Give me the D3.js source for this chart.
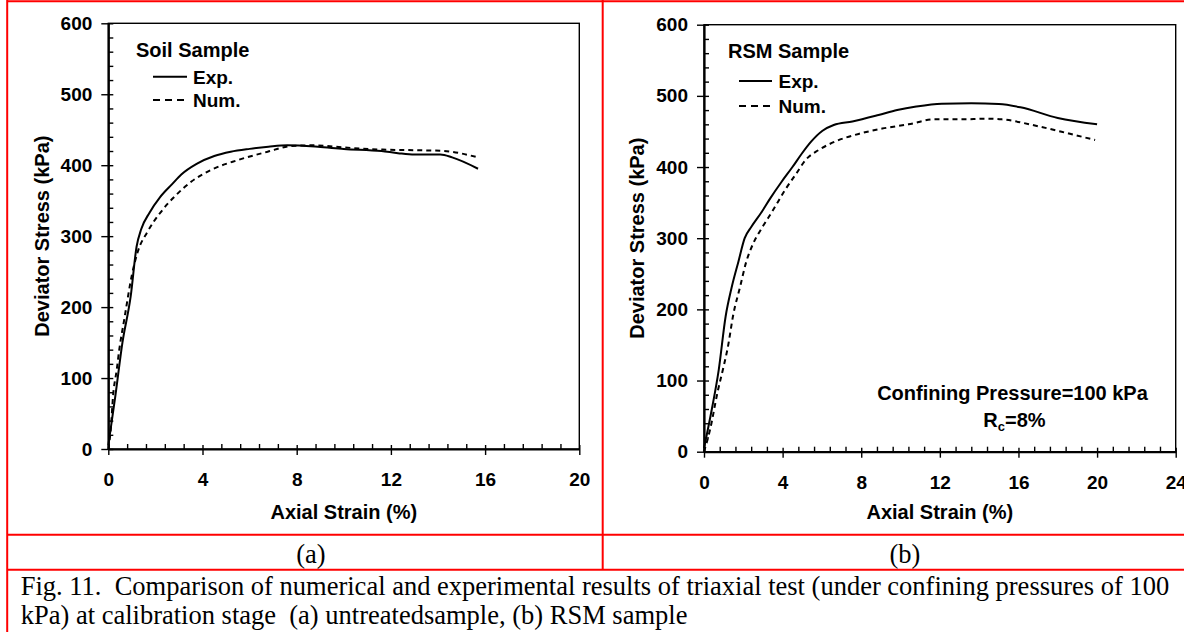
<!DOCTYPE html>
<html><head><meta charset="utf-8">
<script src="https://cdn.jsdelivr.net/npm/d3@7/dist/d3.min.js"></script>
<style>
html,body{margin:0;padding:0;background:#fff;}
svg{display:block;}
</style>
</head><body>
<svg id="chart" width="1184" height="632"></svg>
<script>
// ---------- data ----------
const stressTicks = [0, 100, 200, 300, 400, 500, 600];
const strainTicksA = [0, 4, 8, 12, 16, 20];
const strainTicksB = [0, 4, 8, 12, 16, 20, 24];

const soilExpStrain = [0, 0.3, 0.6, 0.95, 1.2, 1.4, 1.75, 2.2, 2.7, 3.1, 3.75, 4.5, 5.2, 6.0, 6.8, 7.6, 8.9, 10.0, 11.6, 12.3, 13.0, 14.1, 14.6, 15.7];
const soilExpStress = [5, 75, 150, 215, 285, 310, 333, 355, 373, 387, 402, 413, 419, 423, 426, 428, 426, 423, 420, 417, 415, 415, 411, 395];

const soilNumStrain = [0, 0.11, 0.2, 0.36, 0.47, 0.68, 1.0, 1.25, 1.66, 2.23, 2.88, 3.53, 4.34, 5.48, 6.77, 7.75, 8.72, 10.0, 11.65, 13.3, 14.25, 15.7];
const soilNumStress = [0, 30, 74, 112, 141, 183, 245, 278, 306, 334, 358, 377, 393, 407, 419, 427, 428, 425, 422, 421, 420, 411];

const rsmExpStrain = [0, 0.4, 0.75, 1.1, 1.4, 1.75, 2.07, 2.41, 2.89, 3.37, 3.94, 4.5, 4.98, 5.46, 6.03, 6.6, 7.55, 8.88, 9.83, 10.8, 12.1, 13.6, 15.0, 16.1, 18.0, 20.0];
const rsmExpStress = [5, 60, 115, 190, 230, 267, 300, 316, 335, 356, 379, 400, 419, 436, 451, 459, 464, 473, 480, 485, 489, 489.5, 488.5, 484, 469, 460];

const rsmNumStrain = [0, 0.3, 0.7, 1.0, 1.2, 1.5, 1.84, 2.13, 2.51, 2.98, 3.46, 4.13, 4.7, 5.17, 5.84, 6.69, 7.93, 9.07, 10.4, 11.73, 13.06, 14.4, 15.15, 17.05, 18.57, 19.9];
const rsmNumStress = [0, 30, 85, 120, 145, 194, 232, 265, 293, 316, 337, 368, 391, 410, 424, 436, 447, 454, 460, 467, 467, 468, 467, 457, 447, 438];

const xTitle = "Axial Strain (%)";
const yTitle = "Deviator Stress (kPa)";
const legendLabels = ["Exp.", "Num."];
const panelTitles = ["Soil Sample", "RSM Sample"];
const panelTags = ["(a)", "(b)"];
const noteLine1 = "Confining Pressure=100 kPa";
const captionLine1 = "Fig. 11.  Comparison of numerical and experimental results of triaxial test (under confining pressures of 100";
const captionLine2 = "kPa) at calibration stage  (a) untreatedsample, (b) RSM sample";

// ---------- drawing ----------
const svg = d3.select("#chart");
const SANS = "'Liberation Sans', Arial, Helvetica, sans-serif";
const SERIF = "'Liberation Serif', 'Times New Roman', serif";
const RED = "#ff0000";

// table grid
const grid = svg.append("g").attr("stroke", RED).attr("stroke-width", 2).attr("fill", "none");
grid.append("line").attr("x1", 7).attr("x2", 1200).attr("y1", 1.2).attr("y2", 1.2);
grid.append("line").attr("x1", 7.2).attr("x2", 7.2).attr("y1", 0).attr("y2", 640);
grid.append("line").attr("x1", 602.7).attr("x2", 602.7).attr("y1", 0).attr("y2", 569.7);
grid.append("line").attr("x1", 7).attr("x2", 1200).attr("y1", 534.7).attr("y2", 534.7);
grid.append("line").attr("x1", 7).attr("x2", 1200).attr("y1", 569.7).attr("y2", 569.7);

function zip(xs, ys) { return xs.map((x, i) => [x, ys[i]]); }

const panels = [
  { x0: 108.3, x1: 579.3, yT: 23.3, yB: 449, xMax: 20, xTicks: strainTicksA,
    exp: zip(soilExpStrain, soilExpStress), num: zip(soilNumStrain, soilNumStress),
    title: panelTitles[0], titleX: 136, titleY: 56.5,
    legX: 153, legLen: 34, legY: [76.7, 100], legTextX: 193, legTextY: [83.6, 107],
    yTitleX: 42, tag: panelTags[0], tagX: 311 },
  { x0: 704, x1: 1175.7, yT: 24.7, yB: 451.7, xMax: 24, xTicks: strainTicksB,
    exp: zip(rsmExpStrain, rsmExpStress), num: zip(rsmNumStrain, rsmNumStress),
    title: panelTitles[1], titleX: 728, titleY: 57.5,
    legX: 739, legLen: 33, legY: [81, 106], legTextX: 778.5, legTextY: [88.3, 113],
    yTitleX: 637, tag: panelTags[1], tagX: 905 }
];

panels.forEach((p, pi) => {
  const x = d3.scaleLinear().domain([0, p.xMax]).range([p.x0, p.x1]);
  const y = d3.scaleLinear().domain([0, 600]).range([p.yB, p.yT]);
  const g = svg.append("g");

  // frame (top/right)
  g.append("rect").attr("x", p.x0).attr("y", p.yT)
    .attr("width", p.x1 - p.x0).attr("height", p.yB - p.yT)
    .attr("fill", "none").attr("stroke", "#000").attr("stroke-width", 1.4);

  // minor ticks
  const yMinor = d3.range(0, 601, 20).filter(v => v % 100 !== 0);
  const xMinor = d3.range(0, p.xMax + 0.001, 0.8).filter(v => Math.abs(v / 4 - Math.round(v / 4)) > 1e-6);
  g.append("g").attr("transform", `translate(${p.x0},0)`)
    .call(d3.axisRight(y).tickValues(yMinor).tickSize(5).tickFormat(""))
    .call(s => s.select(".domain").remove())
    .selectAll("line").attr("stroke-width", 1.4);
  g.append("g").attr("transform", `translate(0,${p.yB})`)
    .call(d3.axisTop(x).tickValues(xMinor).tickSize(5).tickFormat(""))
    .call(s => s.select(".domain").remove())
    .selectAll("line").attr("stroke-width", 1.4);

  // major axes
  const ay = g.append("g").attr("transform", `translate(${p.x0},0)`)
    .call(d3.axisLeft(y).tickValues(stressTicks).tickSize(7).tickPadding(9).tickSizeOuter(0));
  ay.selectAll(".tick line").attr("x2", -7).attr("x1", 5).attr("stroke-width", 1.4);
  const ax = g.append("g").attr("transform", `translate(0,${p.yB})`)
    .call(d3.axisBottom(x).tickValues(p.xTicks).tickSize(6).tickPadding(17.5).tickSizeOuter(0));
  ax.selectAll(".tick line").attr("y1", -4).attr("stroke-width", 1.4);
  [ay, ax].forEach(a => {
    a.select(".domain").attr("stroke-width", 2.2);
    a.selectAll("text").attr("font-family", SANS).attr("font-weight", "bold")
      .attr("font-size", 19).attr("fill", "#000");
  });

  // curves
  const line = d3.line().x(d => x(d[0])).y(d => y(d[1])).curve(d3.curveMonotoneX);
  g.append("path").datum(p.exp).attr("d", line)
    .attr("fill", "none").attr("stroke", "#000").attr("stroke-width", 2);
  g.append("path").datum(p.num).attr("d", line)
    .attr("fill", "none").attr("stroke", "#000").attr("stroke-width", 2)
    .attr("stroke-dasharray", "5,4");

  // legend
  g.append("text").attr("x", p.titleX).attr("y", p.titleY).text(p.title)
    .attr("font-family", SANS).attr("font-weight", "bold").attr("font-size", 20);
  [0, 1].forEach(k => {
    g.append("line").attr("x1", p.legX).attr("x2", p.legX + p.legLen)
      .attr("y1", p.legY[k]).attr("y2", p.legY[k])
      .attr("stroke", "#000").attr("stroke-width", 2)
      .attr("stroke-dasharray", k === 1 ? "7,5" : null);
    g.append("text").attr("x", p.legTextX).attr("y", p.legTextY[k]).text(legendLabels[k])
      .attr("font-family", SANS).attr("font-weight", "bold").attr("font-size", 19);
  });

  // axis titles
  g.append("text").attr("x", (p.x0 + p.x1) / 2).attr("y", 519).attr("text-anchor", "middle")
    .text(xTitle).attr("font-family", SANS).attr("font-weight", "bold").attr("font-size", 20);
  g.append("text").attr("transform", `translate(${p.yTitleX + 7},${(p.yT + p.yB) / 2}) rotate(-90)`)
    .attr("text-anchor", "middle").text(yTitle)
    .attr("font-family", SANS).attr("font-weight", "bold").attr("font-size", 20);

  // sub-figure tag
  svg.append("text").attr("x", p.tagX).attr("y", 563).attr("text-anchor", "middle")
    .text(p.tag).attr("font-family", SERIF).attr("font-size", 26.5);

  if (pi === 1) {
    g.append("text").attr("x", 1012.5).attr("y", 399.5).attr("text-anchor", "middle")
      .text(noteLine1).attr("font-family", SANS).attr("font-weight", "bold").attr("font-size", 20);
    const t = g.append("text").attr("x", 983.3).attr("y", 427.3)
      .attr("font-family", SANS).attr("font-weight", "bold").attr("font-size", 20);
    t.append("tspan").text("R");
    t.append("tspan").text("c").attr("font-size", 13).attr("dy", 4);
    t.append("tspan").text("=8%").attr("dy", -4);
  }
});

// caption
[captionLine1, captionLine2].forEach((s, i) => {
  svg.append("text").attr("x", 20.7).attr("y", i === 0 ? 595.3 : 623.7).text(s)
    .style("white-space", "pre").attr("xml:space", "preserve")
    .attr("font-family", SERIF).attr("font-size", 26.5).attr("fill", "#000");
});
</script>
</body></html>
